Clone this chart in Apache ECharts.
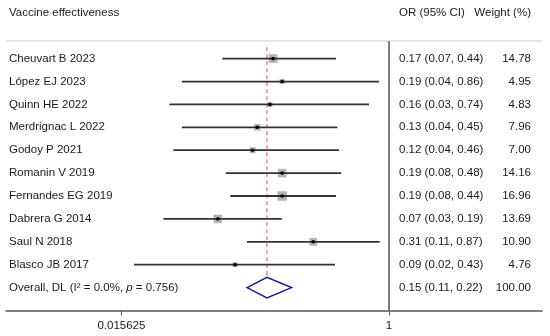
<!DOCTYPE html>
<html>
<head>
<meta charset="utf-8">
<script src="https://cdn.jsdelivr.net/npm/echarts@6/dist/echarts.min.js"></script>
<style>
html,body{margin:0;padding:0;background:#fff;}
#chart{width:550px;height:336px;}
</style>
</head>
<body>
<div id="chart"></div>
<script>
// ---- data ----
const studies = ["Cheuvart B 2023","López EJ 2023","Quinn HE 2022","Merdrignac L 2022","Godoy P 2021","Romanin V 2019","Fernandes EG 2019","Dabrera G 2014","Saul N 2018","Blasco JB 2017"];
const oddsRatio = [0.165,0.19,0.157,0.129,0.12,0.19,0.19,0.070,0.308,0.0914];
const ciLow =  [0.075,0.040,0.033,0.040,0.035,0.079,0.085,0.030,0.110,0.019];
const ciHigh = [0.439,0.856,0.733,0.448,0.460,0.476,0.439,0.189,0.865,0.432];
const weights = [14.78,4.95,4.83,7.96,7.00,14.16,16.96,13.69,10.90,4.76];
const orText = ["0.17 (0.07, 0.44)","0.19 (0.04, 0.86)","0.16 (0.03, 0.74)","0.13 (0.04, 0.45)","0.12 (0.04, 0.46)","0.19 (0.08, 0.48)","0.19 (0.08, 0.44)","0.07 (0.03, 0.19)","0.31 (0.11, 0.87)","0.09 (0.02, 0.43)"];
const weightText = ["14.78","4.95","4.83","7.96","7.00","14.16","16.96","13.69","10.90","4.76"];
const overall = {label: "Overall, DL", or: 0.15, low: 0.11, high: 0.22, orText: "0.15 (0.11, 0.22)", weightText: "100.00"};
const tickValues = [0.015625, 1];
const headers = {left: "Vaccine effectiveness", or: "OR (95% CI)", weight: "Weight (%)"};

const FONT = '"Liberation Sans", Arial, Helvetica, sans-serif';
const TXT = '#1a1a1a';
const NAME_X = 9, OR_X = 399, W_X = 531;

const chart = echarts.init(document.getElementById('chart'), null, {renderer: 'canvas'});

const studyData = studies.map((s, i) => [i, oddsRatio[i], ciLow[i], ciHigh[i], weights[i]]);
const tableData = studies.map((s, i) => [i, s, orText[i], weightText[i]]);
tableData.push([studies.length, '__overall__', overall.orText, overall.weightText]);
const nRows = studies.length + 1;

const option = {
  animation: false,
  grid: {left: 6, right: 8, top: 41, bottom: 25.5},
  xAxis: {
    type: 'log', logBase: 2,
    min: Math.pow(2, -8.587), max: Math.pow(2, 3.43),
    splitLine: {show: false},
    axisLine: {show: true, onZero: false, lineStyle: {color: '#555', width: 1.5}},
    axisTick: {show: true, customValues: tickValues, length: 5, lineStyle: {color: '#555', width: 1}},
    axisLabel: {show: true, customValues: tickValues, color: TXT, fontFamily: FONT, fontSize: 11.5, margin: 9,
      formatter: v => (Math.abs(v - 1) < 1e-9 ? '1' : String(v))},
    minorTick: {show: false}
  },
  yAxis: {
    type: 'value', inverse: true, min: -0.77, max: 11,
    show: false
  },
  graphic: [
    {type: 'text', left: NAME_X, top: 7, style: {text: headers.left, font: '11.5px ' + FONT, fill: TXT}},
    {type: 'text', left: OR_X, top: 7, style: {text: headers.or, font: '11.5px ' + FONT, fill: TXT}},
    {type: 'text', right: 550 - W_X, top: 7, style: {text: headers.weight, font: '11.5px ' + FONT, fill: TXT, align: 'right'}},
    {type: 'line', shape: {x1: 6, y1: 41, x2: 542, y2: 41}, style: {stroke: '#dcdcdc', lineWidth: 1.5}}
  ],
  series: [
    {
      // null line at OR = 1
      type: 'custom',
      data: [[1]],
      renderItem: function (params, api) {
        const p1 = api.coord([api.value(0), -0.77]);
        const p2 = api.coord([api.value(0), 11]);
        return {type: 'line', shape: {x1: p1[0], y1: p1[1], x2: p2[0], y2: p2[1]}, style: {stroke: '#555', lineWidth: 1.5}};
      },
      z: 2
    },
    {
      // overall dashed reference line
      type: 'custom',
      data: [[overall.or]],
      renderItem: function (params, api) {
        const p1 = api.coord([api.value(0), -0.5]);
        const p2 = api.coord([api.value(0), nRows - 0.5]);
        return {type: 'line', shape: {x1: p1[0], y1: p1[1], x2: p2[0], y2: p2[1]}, style: {stroke: '#d9534f', lineWidth: 1, lineDash: [4, 3]}};
      },
      z: 3
    },
    {
      type: 'custom',
      data: studyData,
      encode: {x: [1, 2, 3], y: 0},
      renderItem: function (params, api) {
        const row = api.value(0);
        const c = api.coord([api.value(1), row]);
        const l = api.coord([api.value(2), row]);
        const h = api.coord([api.value(3), row]);
        const s = Math.sqrt(api.value(4)) * 2.3;
        return {type: 'group', children: [
          {type: 'rect', shape: {x: c[0] - s / 2, y: c[1] - s / 2, width: s, height: s}, style: {fill: '#b5b5b5'}},
          {type: 'line', shape: {x1: l[0], y1: l[1], x2: h[0], y2: h[1]}, style: {stroke: '#333', lineWidth: 1.8}},
          {type: 'circle', shape: {cx: c[0], cy: c[1], r: 1.8}, style: {fill: '#000'}}
        ]};
      },
      z: 4
    },
    {
      type: 'custom',
      data: [[studies.length, overall.or, overall.low, overall.high]],
      renderItem: function (params, api) {
        const row = api.value(0);
        const c = api.coord([api.value(1), row]);
        const l = api.coord([api.value(2), row]);
        const h = api.coord([api.value(3), row]);
        const top = api.coord([api.value(1), row - 0.45]);
        const bot = api.coord([api.value(1), row + 0.45]);
        return {type: 'polygon', shape: {points: [[l[0], c[1]], [c[0], top[1]], [h[0], c[1]], [c[0], bot[1]]]},
          style: {fill: '#fff', stroke: '#1a1a8c', lineWidth: 1.5}};
      },
      z: 5
    },
    {
      type: 'custom',
      data: tableData,
      renderItem: function (params, api) {
        const row = api.value(0);
        const y = api.coord([1, row])[1];
        const d = tableData[params.dataIndex];
        const children = [];
        if (d[1] === '__overall__') {
          children.push({type: 'text', x: NAME_X, y: y, style: {
            text: '{n|Overall, DL (I² = 0.0%, }{i|p}{n| = 0.756)}',
            rich: {n: {font: '11.5px ' + FONT, fill: TXT}, i: {font: 'italic 11.5px ' + FONT, fill: TXT}},
            verticalAlign: 'middle', align: 'left'}});
        } else {
          children.push({type: 'text', x: NAME_X, y: y, style: {text: d[1], font: '11.5px ' + FONT, fill: TXT, verticalAlign: 'middle', align: 'left'}});
        }
        children.push({type: 'text', x: OR_X, y: y, style: {text: d[2], font: '11.5px ' + FONT, fill: TXT, verticalAlign: 'middle', align: 'left'}});
        children.push({type: 'text', x: W_X, y: y, style: {text: d[3], font: '11.5px ' + FONT, fill: TXT, verticalAlign: 'middle', align: 'right'}});
        return {type: 'group', children: children};
      },
      z: 6
    }
  ]
};
chart.setOption(option);
</script>
</body>
</html>
